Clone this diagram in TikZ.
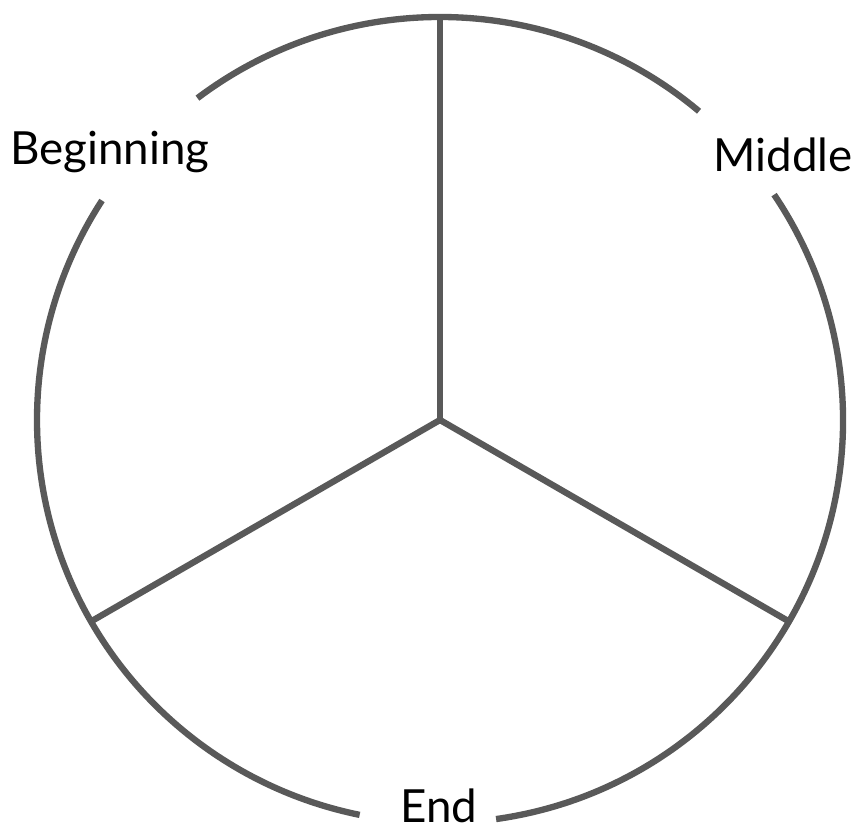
\documentclass[tikz,border=0pt]{standalone}
\usepackage{fontspec}
\setmainfont{Lato}
\usetikzlibrary{calc}
\begin{document}
\begin{tikzpicture}[x=0.02cm, y=0.02cm,
  rim/.style={line width=3.6pt, black!65, line cap=butt},
  lbl/.style={font=\fontsize{26}{30}\selectfont, inner sep=0pt, anchor=base west}]

  % --- 1. 枠 ---
  \useasboundingbox (0,0) rectangle (856,837);

  % --- 2. 中心と円周上の点 ---
  \coordinate (c) at (440,417);
  \coordinate (top) at ($(c)+(90:403)$);
  \coordinate (lowleft) at ($(c)+(210:403)$);
  \coordinate (lowright) at ($(c)+(330:403)$);

  % --- 3. 円周 (ラベルの所で切る) ---
  \draw[rim] ($(c)+(50:403)$) arc[start angle=50, end angle=127, radius=403];
  \draw[rim] ($(c)+(147:403)$) arc[start angle=147, end angle=258.5, radius=403];
  \draw[rim] ($(c)+(278:403)$) arc[start angle=278, end angle=394, radius=403];

  % --- 4. 三本の仕切り ---
  \draw[rim] (c) -- (top);
  \draw[rim] (c) -- (lowleft);
  \draw[rim] (c) -- (lowright);

  % --- 5. ラベル ---
  \node[lbl] (beg) at (10,672) {Beginning};
  \node[lbl] (mid) at (713,665) {Middle};
  \node[lbl] (fin) at (400,14) {End};

\end{tikzpicture}
\end{document}
